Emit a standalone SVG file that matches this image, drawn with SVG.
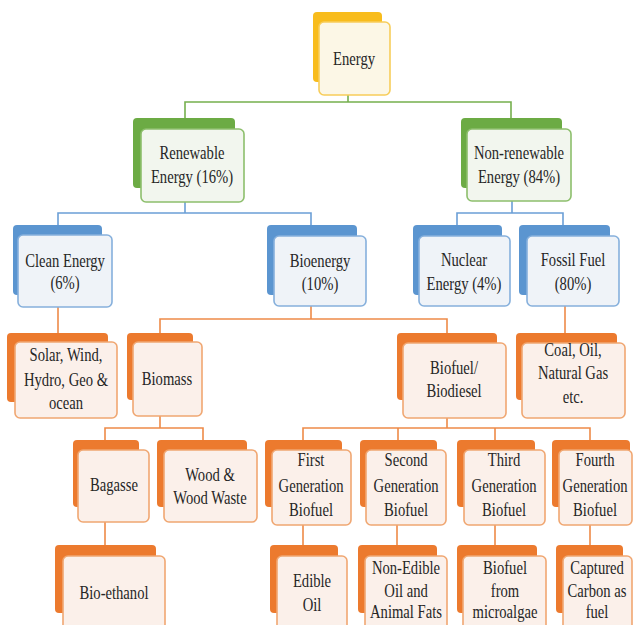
<svg xmlns="http://www.w3.org/2000/svg" width="633" height="625" viewBox="0 0 633 625">
<style>
text{font-family:"Liberation Serif",Tinos,"Noto Serif","DejaVu Serif",serif;font-size:19px;fill:#262626;text-anchor:middle;transform-box:fill-box;transform-origin:center;transform:scaleX(0.77)}
.bk{stroke:none}
.fr{stroke-width:1.6}
.y .bk{fill:#F8BC1C}.y .fr{fill:#FCF7E6;stroke:#F7CD5A}
.g .bk{fill:#6CAB44}.g .fr{fill:#F2F6EE;stroke:#8DBF6C}
.b .bk{fill:#5B95D0}.b .fr{fill:#EFF3F8;stroke:#86B0DC}
.o .bk{fill:#EC7A2E}.o .fr{fill:#FBF0EA;stroke:#F0A772}
#connectors path{fill:none;stroke-width:1.6}
.cg{stroke:#76B04E}.cb{stroke:#6B9FD6}.co{stroke:#EE8A48}
</style>
<rect width="633" height="625" fill="#FFFFFF"/>
<g id="connectors">
<path class="cg" d="M348 95V102M185 118V102H511V118"/>
<path class="cb" d="M185 202V213M58 225V213H311V225"/>
<path class="cb" d="M512 201V213M457 225V213H563V225"/>
<path class="co" d="M58 307V333"/>
<path class="co" d="M311 306V319M160 333V319H447V333"/>
<path class="co" d="M565 306V333"/>
<path class="co" d="M160 416V428M105 440V428H203V440"/>
<path class="co" d="M447 418V428M303 440V428H590V440M398 428V440M495 428V440"/>
<path class="co" d="M105 522V545M303 525V545M397 525V545M495 525V545M590 525V545"/>
</g>
<g id="energy" class="y"><rect class="bk" x="313" y="12" width="69" height="70" rx="4"/><rect class="fr" x="319" y="22" width="71" height="73" rx="5"/><text x="354" y="65">Energy</text></g>
<g id="renewable" class="g"><rect class="bk" x="133" y="118" width="102" height="70" rx="4"/><rect class="fr" x="141" y="129" width="103" height="73" rx="5"/><text x="192" y="159">Renewable</text><text x="192" y="183">Energy (16%)</text></g>
<g id="nonrenewable" class="g"><rect class="bk" x="461" y="118" width="101" height="70" rx="4"/><rect class="fr" x="467" y="129" width="104" height="72" rx="5"/><text x="519" y="159">Non-renewable</text><text x="519" y="183">Energy (84%)</text></g>
<g id="clean" class="b"><rect class="bk" x="13" y="225" width="89" height="70" rx="4"/><rect class="fr" x="18" y="235" width="94" height="72" rx="5"/><text x="65" y="267">Clean Energy</text><text x="65" y="289">(6%)</text></g>
<g id="bioenergy" class="b"><rect class="bk" x="267" y="225" width="90" height="70" rx="4"/><rect class="fr" x="274" y="236" width="92" height="70" rx="5"/><text x="320" y="267">Bioenergy</text><text x="320" y="290">(10%)</text></g>
<g id="nuclear" class="b"><rect class="bk" x="413" y="225" width="89" height="70" rx="4"/><rect class="fr" x="419" y="236" width="91" height="70" rx="5"/><text x="464" y="266">Nuclear</text><text x="464" y="290">Energy (4%)</text></g>
<g id="fossil" class="b"><rect class="bk" x="519" y="225" width="91" height="70" rx="4"/><rect class="fr" x="527" y="236" width="92" height="70" rx="5"/><text x="573" y="266">Fossil Fuel</text><text x="573" y="290">(80%)</text></g>
<g id="solar" class="o"><rect class="bk" x="7" y="333" width="101" height="69" rx="4"/><rect class="fr" x="15" y="342" width="102" height="76" rx="5"/><text x="66" y="361">Solar, Wind,</text><text x="66" y="386">Hydro, Geo &amp;</text><text x="66" y="409">ocean</text></g>
<g id="biomass" class="o"><rect class="bk" x="127" y="333" width="66" height="67" rx="4"/><rect class="fr" x="133" y="342" width="69" height="74" rx="5"/><text x="167" y="385">Biomass</text></g>
<g id="biofuel" class="o"><rect class="bk" x="397" y="333" width="100" height="67" rx="4"/><rect class="fr" x="403" y="343" width="103" height="75" rx="5"/><text x="454" y="374">Biofuel/</text><text x="454" y="397">Biodiesel</text></g>
<g id="coal" class="o"><rect class="bk" x="516" y="333" width="101" height="67" rx="4"/><rect class="fr" x="522" y="343" width="103" height="75" rx="5"/><text x="573" y="356">Coal, Oil,</text><text x="573" y="379">Natural Gas</text><text x="573" y="403">etc.</text></g>
<g id="bagasse" class="o"><rect class="bk" x="73" y="440" width="66" height="67" rx="4"/><rect class="fr" x="78" y="450" width="71" height="72" rx="5"/><text x="114" y="491">Bagasse</text></g>
<g id="wood" class="o"><rect class="bk" x="157" y="440" width="90" height="67" rx="4"/><rect class="fr" x="164" y="450" width="93" height="72" rx="5"/><text x="210" y="481">Wood &amp;</text><text x="210" y="504">Wood Waste</text></g>
<g id="first" class="o"><rect class="bk" x="265" y="440" width="77" height="67" rx="4"/><rect class="fr" x="272" y="450" width="79" height="75" rx="5"/><text x="311" y="466">First</text><text x="311" y="492">Generation</text><text x="311" y="516">Biofuel</text></g>
<g id="second" class="o"><rect class="bk" x="360" y="440" width="77" height="67" rx="4"/><rect class="fr" x="366" y="450" width="80" height="75" rx="5"/><text x="406" y="466">Second</text><text x="406" y="492">Generation</text><text x="406" y="516">Biofuel</text></g>
<g id="third" class="o"><rect class="bk" x="457" y="440" width="78" height="67" rx="4"/><rect class="fr" x="464" y="450" width="81" height="75" rx="5"/><text x="504" y="466">Third</text><text x="504" y="492">Generation</text><text x="504" y="516">Biofuel</text></g>
<g id="fourth" class="o"><rect class="bk" x="552" y="440" width="78" height="67" rx="4"/><rect class="fr" x="559" y="450" width="73" height="75" rx="5"/><text x="595" y="466">Fourth</text><text x="595" y="492">Generation</text><text x="595" y="516">Biofuel</text></g>
<g id="bioethanol" class="o"><rect class="bk" x="55" y="545" width="101" height="68" rx="4"/><rect class="fr" x="63" y="556" width="102" height="76" rx="5"/><text x="114" y="599">Bio-ethanol</text></g>
<g id="edible" class="o"><rect class="bk" x="270" y="545" width="68" height="68" rx="4"/><rect class="fr" x="277" y="556" width="70" height="76" rx="5"/><text x="312" y="587">Edible</text><text x="312" y="611">Oil</text></g>
<g id="nonedible" class="o"><rect class="bk" x="358" y="545" width="79" height="68" rx="4"/><rect class="fr" x="365" y="556" width="82" height="76" rx="5"/><text x="406" y="574">Non-Edible</text><text x="406" y="597">Oil and</text><text x="406" y="618">Animal Fats</text></g>
<g id="microalgae" class="o"><rect class="bk" x="457" y="545" width="80" height="68" rx="4"/><rect class="fr" x="463" y="556" width="83" height="76" rx="5"/><text x="505" y="574">Biofuel</text><text x="505" y="597">from</text><text x="505" y="618">microalgae</text></g>
<g id="captured" class="o"><rect class="bk" x="556" y="545" width="67" height="68" rx="4"/><rect class="fr" x="563" y="556" width="69" height="76" rx="5"/><text x="597" y="574">Captured</text><text x="597" y="597">Carbon as</text><text x="597" y="618">fuel</text></g>
</svg>
